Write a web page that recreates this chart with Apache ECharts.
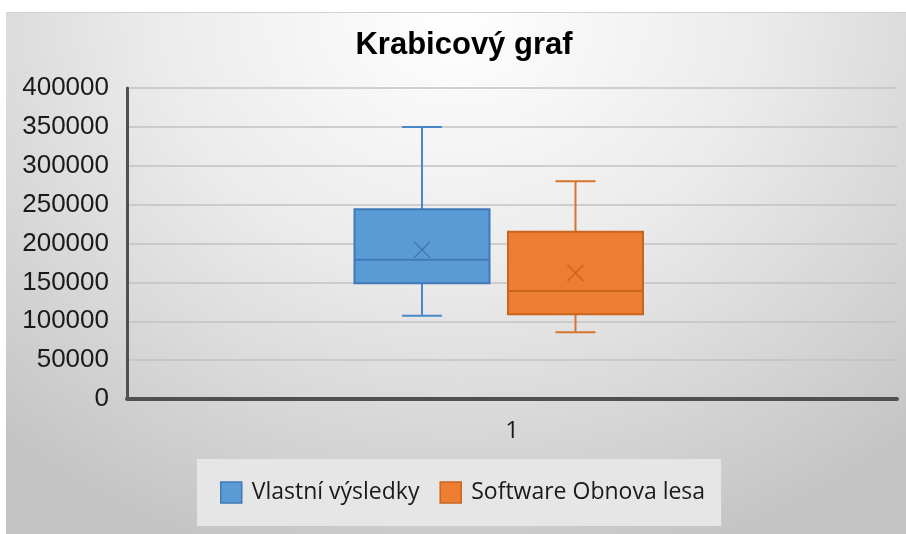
<!DOCTYPE html>
<html>
<head>
<meta charset="utf-8">
<script src="https://cdn.jsdelivr.net/npm/echarts@6/dist/echarts.min.js"></script>
<style>
  html, body { margin: 0; padding: 0; background: #fff; }
  #wrap { position: relative; width: 906px; height: 534px; overflow: hidden; }
  #panel {
    position: absolute; left: 6px; top: 12px; right: 0; bottom: 0;
    background: radial-gradient(ellipse 75% 110% at 50% 0%, #ffffff 0%, #ebebeb 45%, #c4c4c4 100%);
    border-top: 1px solid #d0d0d0;
  }
  #chart { position: absolute; left: 0; top: 0; width: 906px; height: 534px; }
</style>
</head>
<body>
<div id="wrap">
  <div id="panel"></div>
  <div id="chart"></div>
</div>
<script>
// data
const categories = ['1'];
const seriesNames = ['Vlastní výsledky', 'Software Obnova lesa'];
// [min, Q1, median, Q3, max]
const vlastniBox = [107000, 149000, 179000, 244000, 350000];
const softwareBox = [86000, 109000, 139000, 215000, 280000];
const means = [192000, 162000];
const yTicks = [0, 50000, 100000, 150000, 200000, 250000, 300000, 350000, 400000];

const colors = [
  { fill: '#5b9bd5', border: '#4179b8', line: '#4a87c6' },
  { fill: '#ed7d31', border: '#c8651f', line: '#d7742c' }
];
const offsets = [-90, 63.5];
const BOX_W = 135;
const CAP_W = 40;

function renderBox(params, api) {
  const i = params.seriesIndex;
  const c = colors[i];
  const cat = api.value(0);
  const x = api.coord([cat, 0])[0] + offsets[i];
  const y = v => api.coord([cat, v])[1];
  const lo = y(api.value(1)), q1 = y(api.value(2)), med = y(api.value(3));
  const q3 = y(api.value(4)), hi = y(api.value(5)), mean = y(api.value(6));
  const hw = BOX_W / 2, cw = CAP_W / 2, m = 8;
  const ls = { stroke: c.line, lineWidth: 2 };
  return {
    type: 'group',
    children: [
      { type: 'line', shape: { x1: x, y1: hi, x2: x, y2: q3 }, style: ls },
      { type: 'line', shape: { x1: x - cw, y1: hi, x2: x + cw, y2: hi }, style: ls },
      { type: 'line', shape: { x1: x, y1: q1, x2: x, y2: lo }, style: ls },
      { type: 'line', shape: { x1: x - cw, y1: lo, x2: x + cw, y2: lo }, style: ls },
      { type: 'rect', shape: { x: x - hw, y: q3, width: BOX_W, height: q1 - q3 },
        style: { fill: c.fill, stroke: c.border, lineWidth: 2 } },
      { type: 'line', shape: { x1: x - hw, y1: med, x2: x + hw, y2: med },
        style: { stroke: c.border, lineWidth: 2 } },
      { type: 'line', shape: { x1: x - m, y1: mean - m, x2: x + m, y2: mean + m },
        style: { stroke: c.border, lineWidth: 1.5 } },
      { type: 'line', shape: { x1: x - m, y1: mean + m, x2: x + m, y2: mean - m },
        style: { stroke: c.border, lineWidth: 1.5 } }
    ]
  };
}

const boxes = [vlastniBox, softwareBox];

const chart = echarts.init(document.getElementById('chart'));
chart.setOption({
  backgroundColor: 'transparent',
  animation: false,
  title: {
    text: 'Krabicový graf',
    left: 459,
    top: 25,
    textAlign: 'center',
    textStyle: { fontFamily: 'Liberation Sans', fontWeight: 'bold', fontSize: 31, color: '#000' }
  },
  legend: {
    left: 197,
    top: 459,
    padding: [22, 16, 22, 23],
    backgroundColor: '#e6e6e6',
    itemWidth: 21,
    itemHeight: 21,
    itemGap: 20,
    icon: 'rect',
    textStyle: { fontFamily: 'Open Sans', fontSize: 23, color: '#1a1a1a', padding: [0, 0, 0, 5] },
    data: seriesNames.map((n, i) => ({
      name: n,
      itemStyle: { color: colors[i].fill, borderColor: colors[i].border, borderWidth: 1.5 }
    }))
  },
  grid: { left: 127, right: 9, top: 88, bottom: 135 },
  xAxis: {
    type: 'category',
    data: categories,
    axisLine: { lineStyle: { color: '#505050', width: 4 } },
    axisTick: { show: false },
    axisLabel: { fontFamily: 'Open Sans', fontSize: 24, color: '#1a1a1a', margin: 20 }
  },
  yAxis: {
    type: 'value',
    min: yTicks[0],
    max: yTicks[yTicks.length - 1],
    interval: yTicks[1] - yTicks[0],
    axisLine: { show: true, lineStyle: { color: '#505050', width: 3 } },
    axisTick: { show: false },
    axisLabel: {
      fontFamily: 'Liberation Sans', fontSize: 26, color: '#1a1a1a', margin: 18,
      formatter: v => String(v)
    },
    splitLine: { lineStyle: { color: '#c2c2c2', width: 1.5 } }
  },
  series: seriesNames.map((n, i) => ({
    name: n,
    type: 'custom',
    renderItem: renderBox,
    itemStyle: { color: colors[i].fill },
    encode: { x: 0, y: [1, 2, 3, 4, 5, 6] },
    data: [[0].concat(boxes[i], [means[i]])]
  }))
});
</script>
</body>
</html>
